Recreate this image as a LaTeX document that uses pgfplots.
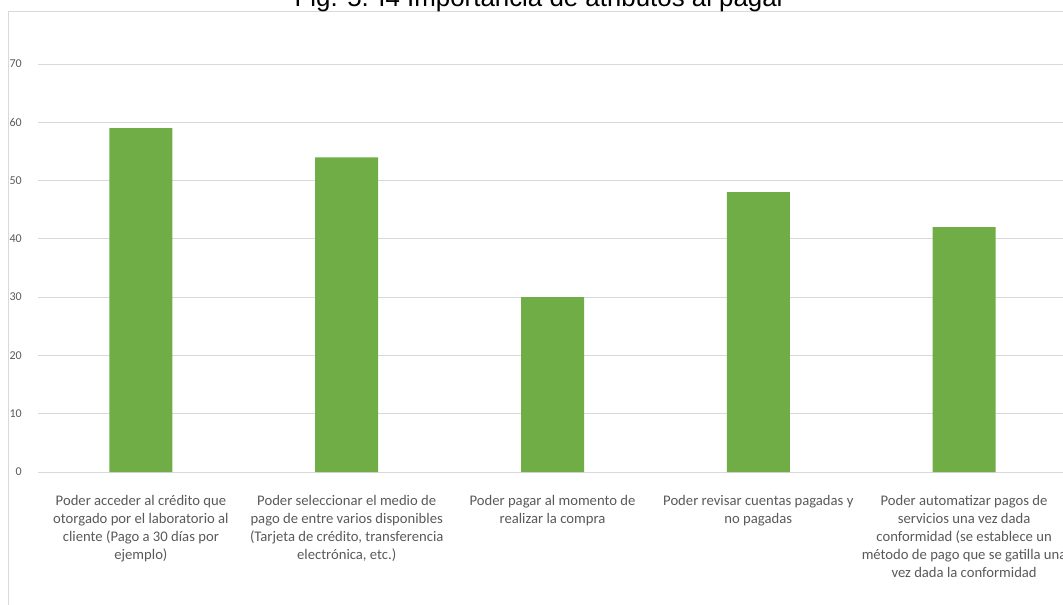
\documentclass[border=0pt]{standalone}
\usepackage{pgfplots}
\pgfplotsset{compat=1.18}
\usepackage{fontspec}
\setmainfont{Carlito}
\newfontfamily\titlefont{Liberation Sans}
\definecolor{barg}{HTML}{70AD47}
\definecolor{gridc}{HTML}{D9D9D9}
\definecolor{txt}{HTML}{595959}
\begin{document}
\begin{tikzpicture}
\useasboundingbox (0,0) rectangle (797.25pt,-453.75pt);
\clip (0,0) rectangle (797.25pt,-453.75pt);
\draw[gridc, line width=0.75pt] (6pt,-480pt) -- (6pt,-9pt) -- (820pt,-9pt);
\node[anchor=base, inner sep=0pt, font=\titlefont\fontsize{19.4}{22}\selectfont] at (405pt,-4.875pt) {Fig. 5. I4 Importancia de atributos al pagar};
\begin{axis}[
  at={(28.5pt,-354pt)}, anchor=south west,
  scale only axis, width=771.75pt, height=306pt,
  xmin=-0.5, xmax=4.5, ymin=0, ymax=70,
  ytick={0,10,...,70},
  xtick={0,1,2,3,4},
  xticklabels={
    {Poder acceder al crédito que\\otorgado por el laboratorio al\\cliente (Pago a 30 días por\\ejemplo)},
    {Poder seleccionar el medio de\\pago de entre varios disponibles\\(Tarjeta de crédito, transferencia\\electrónica, etc.)},
    {Poder pagar al momento de\\realizar la compra},
    {Poder revisar cuentas pagadas y\\no pagadas},
    {Poder automatizar pagos de\\servicios una vez dada\\conformidad (se establece un\\método de pago que se gatilla una\\vez dada la conformidad}
  },
  xticklabel style={align=center, font=\fontsize{11}{13.5}\selectfont, text=txt, inner sep=0pt, anchor=north, yshift=-17pt},
  yticklabel style={font=\fontsize{9}{11}\selectfont, text=txt, inner sep=0pt, anchor=east, xshift=-12pt},
  /pgf/number format/assume math mode=true,
  major tick length=0pt,
  axis line style={draw=none},
  ymajorgrids,
  grid style={gridc, line width=0.75pt},
  clip=false,
]
\addplot[ybar, bar width=47.25pt, fill=barg, draw=none] coordinates {(0,59) (1,54) (2,30) (3,48) (4,42)};
\end{axis}
\end{tikzpicture}
\end{document}
